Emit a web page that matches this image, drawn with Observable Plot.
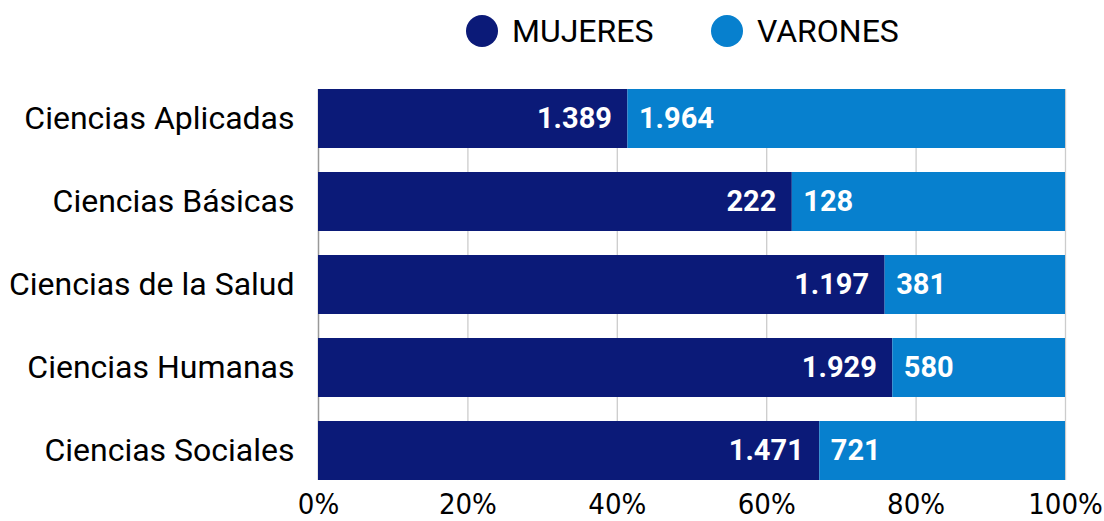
<!DOCTYPE html>
<html>
<head>
<meta charset="utf-8">
<script src="https://cdn.jsdelivr.net/npm/d3@7"></script>
<script src="https://cdn.jsdelivr.net/npm/@observablehq/plot@0.6"></script>
<style>
  html, body { margin: 0; padding: 0; background: #fff; }
  #wrap { position: relative; width: 1104px; height: 521px; overflow: hidden; }
  #legend { position: relative; height: 64px; width: 1104px; font-family: Roboto, sans-serif; font-size: 32px; color: #000; }
  .item { position: absolute; top: 15px; display: flex; align-items: center; height: 32px; }
  .sw { width: 32px; height: 32px; border-radius: 50%; margin-right: 14px; }
</style>
</head>
<body>
<div id="wrap">
  <div id="legend"></div>
  <div id="chart"></div>
</div>
<script>
const categories = ["Ciencias Aplicadas", "Ciencias Básicas", "Ciencias de la Salud", "Ciencias Humanas", "Ciencias Sociales"];
const mujeres = [1389, 222, 1197, 1929, 1471];
const varones = [1964, 128, 381, 580, 721];
const series = ["MUJERES", "VARONES"];
const colors = ["#0b1a78", "#0780ce"];
const xTicks = [0, 0.2, 0.4, 0.6, 0.8, 1];

const legendPos = [466, 711];
const legend = document.getElementById("legend");
series.forEach((s, i) => {
  const it = document.createElement("div");
  it.className = "item";
  it.style.left = legendPos[i] + "px";
  it.innerHTML = `<div class="sw" style="background:${colors[i]}"></div><span>${s}</span>`;
  legend.appendChild(it);
});

const long = [];
categories.forEach((c, i) => {
  long.push({cat: c, sex: series[0], value: mujeres[i]});
  long.push({cat: c, sex: series[1], value: varones[i]});
});
const rows = categories.map((c, i) => ({cat: c, m: mujeres[i], v: varones[i], f: mujeres[i] / (mujeres[i] + varones[i])}));

const fmt = d3.formatLocale({decimal: ",", thousands: ".", grouping: [3], currency: ["", ""]}).format(",");

const chart = Plot.plot({
  width: 1104,
  height: 457,
  marginLeft: 318,
  marginRight: 39,
  marginTop: 25,
  marginBottom: 41,
  style: {background: "#fff", overflow: "visible"},
  x: {domain: [0, 1], ticks: xTicks, tickFormat: d => Math.round(d * 100) + "%", label: null, tickSize: 0, tickPadding: 13},
  y: {domain: categories, paddingInner: 0.29, paddingOuter: 0, label: null, tickSize: 0, tickPadding: 24},
  color: {domain: series, range: colors},
  marks: [
    Plot.ruleX(xTicks.filter(d => d > 0), {stroke: "#cccccc", strokeWidth: 1.3}),
    Plot.ruleX([0], {stroke: "#999999", strokeWidth: 1.5}),
    Plot.barX(long, Plot.stackX({offset: "normalize", x: "value", y: "cat", fill: "sex", order: series})),
    Plot.text(rows, {x: "f", y: "cat", text: d => fmt(d.m), textAnchor: "end", dx: -16, fill: "#fff", fontWeight: "bold", fontSize: 29, fontFamily: "Roboto"}),
    Plot.text(rows, {x: "f", y: "cat", text: d => fmt(d.v), textAnchor: "start", dx: 11, fill: "#fff", fontWeight: "bold", fontSize: 29, fontFamily: "Roboto"}),
    Plot.axisY({tickSize: 0, tickPadding: 24, fontSize: 32, fontFamily: "Roboto", fill: "#000"}),
    Plot.axisX({ticks: xTicks, tickFormat: d => Math.round(d * 100) + "%", tickSize: 0, tickPadding: 13, fontSize: 29, fontFamily: "DejaVu Sans Condensed, DejaVu Sans", fill: "#000"})
  ]
});
d3.select(chart).selectAll("g[aria-label='x-axis tick label'] text")
  .style("font-stretch", "condensed");
document.getElementById("chart").appendChild(chart);
</script>
</body>
</html>
